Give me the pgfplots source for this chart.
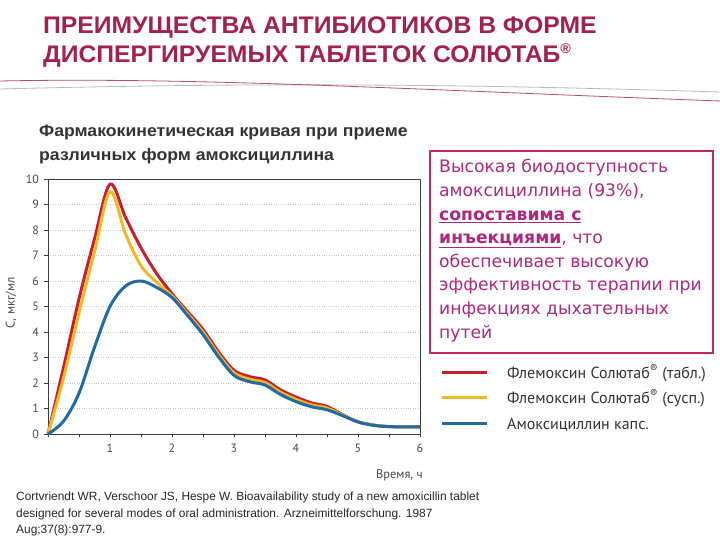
\documentclass[border=0pt]{standalone}
\usepackage{pgfplots}
\pgfplotsset{compat=1.18}
\usepackage{fontspec}
\setmainfont{Liberation Sans}
\newfontfamily\myriad{PT Sans}
\newfontfamily\boxfont{DejaVu Sans}
\definecolor{titlecol}{HTML}{A3214E}
\definecolor{subcol}{HTML}{333333}
\definecolor{boxcol}{HTML}{C4285A}
\definecolor{boxtext}{HTML}{B0287E}
\definecolor{cred}{HTML}{C8202A}
\definecolor{cyel}{HTML}{F2B822}
\definecolor{cblue}{HTML}{1F6BA5}
\definecolor{axcol}{HTML}{3A3A3A}
\definecolor{tickcol}{HTML}{4A4A4A}

\pgfplotstableread{
x y
0 0
0.25 2.6
0.5 5.3
0.75 7.65
1 9.8
1.25 8.5
1.5 7.3
1.75 6.3
2 5.5
2.25 4.8
2.5 4.1
2.75 3.22
3 2.5
3.25 2.25
3.5 2.12
3.75 1.73
4 1.45
4.25 1.22
4.5 1.08
4.75 0.76
5 0.48
5.25 0.35
5.5 0.29
5.75 0.28
6 0.28
}\tabred

\pgfplotstableread{
x y
0 0
0.25 2.2
0.5 4.75
0.75 7.15
1 9.5
1.25 7.85
1.5 6.6
1.75 5.95
2 5.42
2.25 4.72
2.5 4.0
2.75 3.12
3 2.4
3.25 2.15
3.5 2.02
3.75 1.64
4 1.36
4.25 1.14
4.5 1.02
4.75 0.74
5 0.48
5.25 0.35
5.5 0.29
5.75 0.28
6 0.28
}\tabyel

\pgfplotstableread{
x y
0 0
0.25 0.5
0.5 1.6
0.75 3.4
1 5.0
1.25 5.8
1.5 6.0
1.75 5.75
2 5.35
2.25 4.65
2.5 3.9
2.75 3.03
3 2.3
3.25 2.05
3.5 1.92
3.75 1.55
4 1.27
4.25 1.07
4.5 0.95
4.75 0.72
5 0.47
5.25 0.34
5.5 0.29
5.75 0.28
6 0.28
}\tabblue

\begin{document}
\begin{tikzpicture}[x=1pt,y=1pt]
\path[use as bounding box, fill=white] (0,0) rectangle (720,540);

% title
\node[anchor=base west, inner sep=0pt, text=titlecol, font=\bfseries\fontsize{24}{28}\selectfont] at (43,506.5) {\scalebox{1.03}[1]{ПРЕИМУЩЕСТВА АНТИБИОТИКОВ В ФОРМЕ}};
\node[anchor=base west, inner sep=0pt, text=titlecol, font=\bfseries\fontsize{24}{28}\selectfont] at (43,477.5) {\scalebox{1.03}[1]{ДИСПЕРГИРУЕМЫХ ТАБЛЕТОК СОЛЮТАБ\textsuperscript{\fontsize{14}{14}\selectfont ®}}};

% decorative swooshes
\draw[gray!55, line width=0.8pt] (0,451) .. controls (200,456) and (400,458) .. (720,448);
\draw[titlecol!80, line width=0.8pt] (0,459) .. controls (200,463) and (420,450) .. (720,439);

% subtitle
\node[anchor=base west, inner sep=0pt, text=subcol, font=\bfseries\fontsize{16.5}{18}\selectfont] at (39,403) {\scalebox{1.07}[1]{Фармакокинетическая кривая при приеме}};
\node[anchor=base west, inner sep=0pt, text=subcol, font=\bfseries\fontsize{16.5}{18}\selectfont] at (39,379.5) {\scalebox{1.07}[1]{различных форм амоксициллина}};

\begin{axis}[
  at={(48pt,106pt)}, anchor=south west,
  scale only axis, width=372pt, height=255pt,
  xmin=0, xmax=6, ymin=0, ymax=10,
  axis line style={axcol, line width=0.9pt},
  xtick={0,0.5,1,1.5,2,2.5,3,3.5,4,4.5,5,5.5,6},
  xticklabels={{},{},1,{},2,{},3,{},4,{},5,{},6},
  ytick={0,1,...,10},
  xtick pos=bottom, ytick pos=left,
  tick align=outside,
  major tick length=3.5pt,
  tick style={axcol, line width=0.8pt},
  ymajorgrids,
  grid style={dotted, gray!45, line width=0.6pt},
  /pgf/number format/assume math mode=true,
  ticklabel style={font=\myriad\fontsize{12}{12}\selectfont, text=tickcol},
  xticklabel style={yshift=-3pt},
  yticklabel style={xshift=-2pt},
  xlabel={Время, ч},
  ylabel={С, мкг/мл},
  xlabel style={at={(axis description cs:1.008,-0.161)}, anchor=east, inner sep=0pt, font=\myriad\fontsize{12.5}{12}\selectfont, text=tickcol},
  ylabel style={at={(axis description cs:-0.0995,0.514)}, anchor=center, inner sep=0pt, font=\myriad\fontsize{12.5}{12}\selectfont, text=tickcol},
  clip=false,
]
\addplot[cred, line width=3pt, smooth, tension=0.55] table[x=x,y=y] {\tabred};
\addplot[cyel, line width=3pt, smooth, tension=0.55] table[x=x,y=y] {\tabyel};
\addplot[cblue, line width=3pt, smooth, tension=0.55] table[x=x,y=y] {\tabblue};
\end{axis}

% text box
\draw[boxcol, line width=2pt] (430,187) rectangle (713,389);
\begin{scope}[every node/.style={anchor=base west, inner sep=0pt, text=boxtext, font=\boxfont\fontsize{17.2}{20}\selectfont}]
\node at (439,367.0) {Высокая биодоступность};
\node at (439,343.4) {амоксициллина (93\%),};
\node at (439,319.8) {\underline{\textbf{сопоставима с}}};
\node at (439,296.2) {\underline{\textbf{инъекциями}}, что};
\node at (439,272.6) {обеспечивает высокую};
\node at (439,249.0) {эффективность терапии при};
\node at (439,225.4) {инфекциях дыхательных};
\node at (439,201.8) {путей};
\end{scope}

% legend
\draw[cred, line width=3pt] (442,167) -- (487,167);
\draw[cyel, line width=3pt] (442,142) -- (487,142);
\draw[cblue, line width=3pt] (442,116) -- (487,116);
\begin{scope}[every node/.style={anchor=base west, inner sep=0pt, text=subcol, font=\myriad\fontsize{16}{16}\selectfont}]
\node at (507,161.5) {Флемоксин Солютаб\textsuperscript{®} (табл.)};
\node at (507,136.5) {Флемоксин Солютаб\textsuperscript{®} (сусп.)};
\node at (507,110.5) {Амоксициллин капс.};
\end{scope}

% reference
\begin{scope}[every node/.style={anchor=base west, inner sep=0pt, text=black!85, font=\fontsize{11.9}{14}\selectfont}]
\node at (16,39.3) {Cortvriendt WR, Verschoor JS, Hespe W. Bioavailability study of a new amoxicillin tablet};
\node at (16,22.3) {designed for several modes of oral administration. Arzneimittelforschung. 1987};
\node at (16,6) {Aug;37(8):977-9.};
\end{scope}
\end{tikzpicture}
\end{document}
